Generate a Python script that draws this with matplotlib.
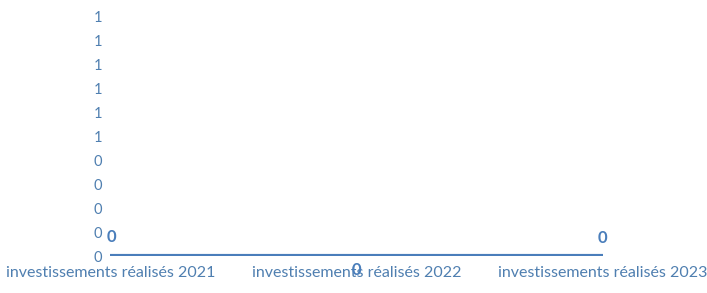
import matplotlib
matplotlib.use("Agg")
import math
import matplotlib.pyplot as plt
from matplotlib.ticker import FuncFormatter

categories = ["investissements réalisés 2021", "investissements réalisés 2022", "investissements réalisés 2023"]
values = [0, 0, 0]
yticks = [0, 0.1, 0.2, 0.3, 0.4, 0.5, 0.6, 0.7, 0.8, 0.9, 1.0]

plt.rcParams['font.family'] = ['Lato', 'DejaVu Sans']

fig = plt.figure(figsize=(7.07, 2.93), dpi=100)
ax = fig.add_axes([108/707, 1-256/293, (605-108)/707, (256-16)/293])

x = list(range(len(categories)))
line_color = "#4a7ebb"
ax.plot(x, values, color=line_color, linewidth=3, solid_capstyle='butt')

ax.set_xlim(-0.01, 2.01)
ax.set_ylim(0, 1)
ax.set_yticks(yticks)
ax.yaxis.set_major_formatter(FuncFormatter(lambda v, p: str(int(math.floor(v + 0.5 + 1e-9)))))
ax.set_xticks(x)
ax.set_xticklabels(categories)
for s in ax.spines.values():
    s.set_visible(False)
ax.tick_params(axis='y', length=0, colors="#4f7fb0", labelsize=10.5, pad=4)
ax.tick_params(axis='x', length=0, colors="#4f7fb0", labelsize=11.5, pad=7)

offsets = [(1, 14), (0, -10), (0, 13)]
for xi, v, off in zip(x, values, offsets):
    ax.annotate(f"{v:.0f}", (xi, v), xytext=off, textcoords='offset points',
                ha='center', va='center', color="#4a7ebb", fontsize=12, fontweight='bold')

fig.savefig("out.png", dpi=100)
